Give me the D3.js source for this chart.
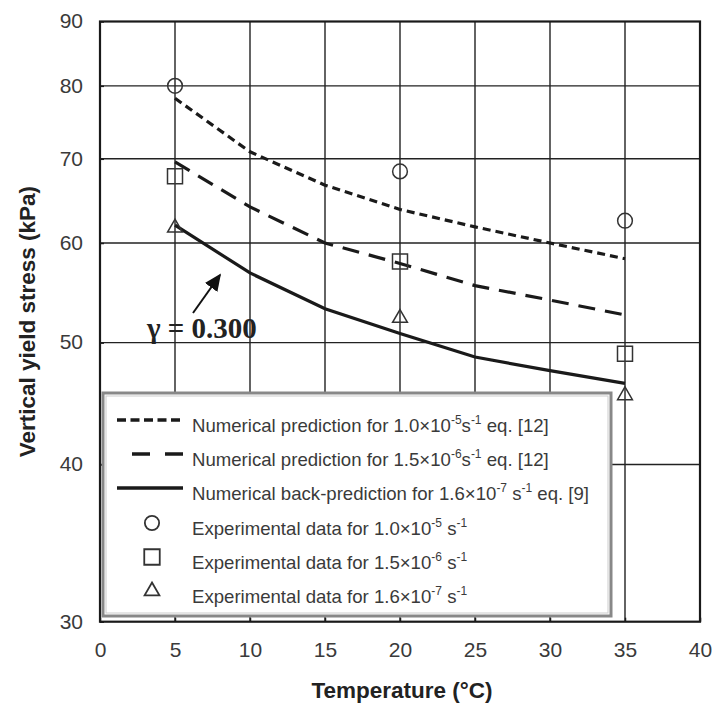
<!DOCTYPE html>
<html><head><meta charset="utf-8">
<script src="https://cdn.jsdelivr.net/npm/d3@7"></script>
<style>body{margin:0;background:#fff}svg{display:block}</style>
</head><body>
<svg id="chart" width="715" height="704"></svg>
<script>
const xTicks = [0,5,10,15,20,25,30,35,40];
const yTicks = [30,40,50,60,70,80,90];
const gridY = [40,50,60,70,80];
const gridX = [5,10,15,20,25,30,35];
const lineX = [5,10,15,20,25,30,35];
const predFast = [78.2,70.9,66.7,63.8,61.8,60.0,58.3];
const predMid = [69.6,64.1,60.0,57.8,55.5,54.05,52.6];
const predSlow = [62.0,56.8,53.2,50.85,48.7,47.5,46.4];
const expX = [5,20,35];
const expFast = [80.0,68.4,62.5];
const expMid = [67.8,58.0,49.0];
const expSlow = [61.7,52.3,45.4];

const svg = d3.select("#chart");
const L=100,R=700,T=21.5,B=621.7;
const x = d3.scaleLinear().domain([0,40]).range([L,R]);
const y = d3.scaleLog().domain([30,90]).range([B,T]);
const ink="#1a1a1a";
const sans="Liberation Sans, Arial, sans-serif";

// grid
svg.append("g").selectAll("line").data(gridX).join("line")
  .attr("x1",d=>x(d)).attr("x2",d=>x(d)).attr("y1",T).attr("y2",B)
  .attr("stroke","#222").attr("stroke-width",1.4);
svg.append("g").selectAll("line").data(gridY).join("line")
  .attr("x1",L).attr("x2",R).attr("y1",d=>y(d)).attr("y2",d=>y(d))
  .attr("stroke","#222").attr("stroke-width",1.4);

// axes
const xAxis = d3.axisBottom(x).tickValues(xTicks).tickSize(-4).tickPadding(20);
const yAxis = d3.axisLeft(y).tickValues(yTicks).tickFormat(d3.format("d")).tickSize(-4).tickPadding(17);
const gx = svg.append("g").attr("transform",`translate(0,${B})`).call(xAxis);
const gy = svg.append("g").attr("transform",`translate(${L},0)`).call(yAxis);
[gx,gy].forEach(g=>{
  g.select(".domain").remove();
  g.selectAll(".tick line").attr("stroke",ink).attr("stroke-width",1.5);
  g.selectAll("text").attr("font-family",sans).attr("font-size",21).attr("fill","#3a3a3a");
});
gy.selectAll("text").attr("dy","0.3em");

// frame
svg.append("rect").attr("x",L).attr("y",T).attr("width",R-L).attr("height",B-T)
  .attr("fill","none").attr("stroke",ink).attr("stroke-width",2.2);

// lines
const lineGen = arr => d3.line().x((d,i)=>x(lineX[i])).y(d=>y(d))(arr);
const styles = [
  {data:predFast, dash:"8,5"},
  {data:predMid, dash:"17,10"},
  {data:predSlow, dash:null}
];
styles.forEach(s=>{
  svg.append("path").attr("d",lineGen(s.data)).attr("fill","none")
    .attr("stroke",ink).attr("stroke-width",3.2)
    .attr("stroke-dasharray",s.dash);
});

// markers
const circ = d3.symbol().type(d3.symbolCircle).size(170);
const sq = d3.symbol().type(d3.symbolSquare).size(225);
const tri = d3.symbol().type(d3.symbolTriangle).size(95);
function marks(vals, sym){
  svg.append("g").selectAll("path").data(vals).join("path")
    .attr("transform",(d,i)=>`translate(${x(expX[i])},${y(d)})`)
    .attr("d",sym).attr("fill","none").attr("stroke","#333").attr("stroke-width",1.5);
}
marks(expFast,circ); marks(expMid,sq); marks(expSlow,tri);

// annotation
svg.append("text").attr("x",147).attr("y",338)
  .attr("font-family","Liberation Serif, Times New Roman, serif").attr("font-weight","bold")
  .attr("font-size",29).attr("fill","#222").text("γ = 0.300");
svg.append("defs").append("marker").attr("id","ah").attr("viewBox","0 0 10 10")
  .attr("refX",9).attr("refY",5).attr("markerWidth",8.5).attr("markerHeight",8.5)
  .attr("markerUnits","strokeWidth")
  .attr("orient","auto").append("path").attr("d","M0,0.5L10,5L0,9.5z").attr("fill","#111");
svg.append("line").attr("x1",193).attr("y1",313).attr("x2",220).attr("y2",275)
  .attr("stroke","#111").attr("stroke-width",2).attr("marker-end","url(#ah)");

// legend
const lg = svg.append("g");
lg.append("rect").attr("x",103).attr("y",393).attr("width",508).attr("height",223)
  .attr("fill","#fff").attr("stroke","#888").attr("stroke-width",3);
lg.append("rect").attr("x",106).attr("y",396).attr("width",502).attr("height",217)
  .attr("fill","none").attr("stroke","#ccc").attr("stroke-width",1);
const legRows = [
  {type:"line",dash:"9,4.5",x1:117,parts:[["Numerical prediction for 1.0×10",""],["-5","sup"],["s",""],["-1","sup"],[" eq. [12]",""]]},
  {type:"line",dash:"18,15",x1:132,parts:[["Numerical prediction for 1.5×10",""],["-6","sup"],["s",""],["-1","sup"],[" eq. [12]",""]]},
  {type:"line",dash:null,x1:117,parts:[["Numerical back-prediction for 1.6×10",""],["-7","sup"],[" s",""],["-1","sup"],[" eq. [9]",""]]},
  {type:"sym",sym:d3.symbol().type(d3.symbolCircle).size(160),parts:[["Experimental data for 1.0×10",""],["-5","sup"],[" s",""],["-1","sup"]]},
  {type:"sym",sym:d3.symbol().type(d3.symbolSquare).size(240),parts:[["Experimental data for 1.5×10",""],["-6","sup"],[" s",""],["-1","sup"]]},
  {type:"sym",sym:d3.symbol().type(d3.symbolTriangle).size(95),parts:[["Experimental data for 1.6×10",""],["-7","sup"],[" s",""],["-1","sup"]]}
];
const rowY = [432,466,500,535,569,603];
legRows.forEach((r,i)=>{
  const yy=rowY[i];
  if(r.type==="line"){
    lg.append("line").attr("x1",r.x1).attr("x2",183).attr("y1",yy-12).attr("y2",yy-12)
      .attr("stroke",ink).attr("stroke-width",3.4).attr("stroke-dasharray",r.dash);
  } else {
    lg.append("path").attr("transform",`translate(152,${yy-12})`).attr("d",r.sym)
      .attr("fill","none").attr("stroke","#333").attr("stroke-width",1.8);
  }
  const t = lg.append("text").attr("x",192).attr("y",yy)
    .attr("font-family",sans).attr("font-size",18.6).attr("fill","#3a3a3a");
  r.parts.forEach(p=>{
    const ts = t.append("tspan").text(p[0]);
    if(p[1]==="sup") ts.attr("font-size",12).attr("baseline-shift","65%");
  });
});

// axis titles
svg.append("text").attr("x",402).attr("y",698).attr("text-anchor","middle")
  .attr("font-family",sans).attr("font-weight","bold")
  .attr("font-size",22.5).attr("fill","#222").text("Temperature (°C)");
svg.append("text").attr("transform",`translate(35,${(T+B)/2}) rotate(-90)`).attr("text-anchor","middle")
  .attr("font-family",sans).attr("font-weight","bold")
  .attr("font-size",22.5).attr("fill","#222").text("Vertical yield stress (kPa)");
</script>
</body></html>
